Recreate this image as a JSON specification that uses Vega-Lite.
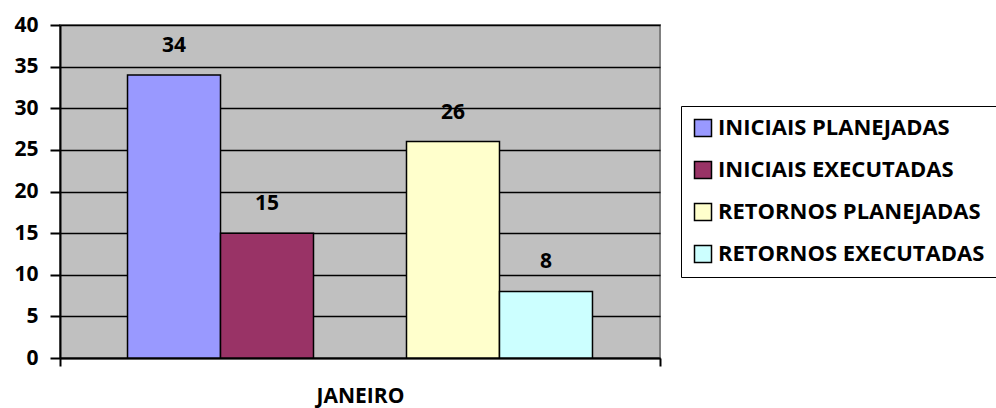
{
  "$schema": "https://vega.github.io/schema/vega-lite/v6.json",
  "width": 600,
  "height": 333,
  "autosize": {"type": "none"},
  "padding": {"left": 60, "top": 25, "right": 336, "bottom": 50},
  "background": "white",
  "config": {
    "font": "Open Sans",
    "view": {"fill": "#C0C0C0", "stroke": "#808080", "strokeWidth": 2},
    "legend": {"strokeColor": "black", "fillColor": "white"}
  },
  "data": {
    "values": [
      {"mes": "JANEIRO", "serie": "INICIAIS PLANEJADAS", "valor": 34},
      {"mes": "JANEIRO", "serie": "INICIAIS EXECUTADAS", "valor": 15},
      {"mes": "JANEIRO", "serie": "RETORNOS PLANEJADAS", "valor": 26},
      {"mes": "JANEIRO", "serie": "RETORNOS EXECUTADAS", "valor": 8}
    ]
  },
  "encoding": {
    "x": {
      "field": "mes", "type": "nominal",
      "scale": {"paddingInner": 0, "paddingOuter": 0},
      "axis": {
        "title": null, "labelAngle": 0, "labelFontSize": 21, "labelFontWeight": "bold",
        "labelColor": "black", "labelPadding": 19, "ticks": true, "tickBand": "extent",
        "tickSize": 8, "tickColor": "black", "tickWidth": 2,
        "domainColor": "black", "domainWidth": 2
      }
    },
    "xOffset": {
      "field": "serie",
      "scale": {
        "domain": ["INICIAIS PLANEJADAS", "INICIAIS EXECUTADAS", " ", "RETORNOS PLANEJADAS", "RETORNOS EXECUTADAS"],
        "paddingInner": 0, "paddingOuter": 0.726
      }
    },
    "y": {
      "field": "valor", "type": "quantitative",
      "scale": {"domain": [0, 40]},
      "axis": {
        "title": null, "values": [0, 5, 10, 15, 20, 25, 30, 35, 40],
        "labelFontSize": 21, "labelFontWeight": "bold", "labelColor": "black",
        "tickSize": 10, "tickColor": "black", "tickWidth": 2, "labelPadding": 12,
        "domainColor": "black", "domainWidth": 2,
        "grid": true, "gridColor": "black", "gridWidth": 1.5
      }
    }
  },
  "layer": [
    {
      "mark": {"type": "bar", "stroke": "black", "strokeWidth": 1.5},
      "encoding": {
        "color": {
          "field": "serie", "type": "nominal",
          "scale": {
            "domain": ["INICIAIS PLANEJADAS", "INICIAIS EXECUTADAS", "RETORNOS PLANEJADAS", "RETORNOS EXECUTADAS"],
            "range": ["#9999FF", "#993366", "#FFFFCC", "#CCFFFF"]
          },
          "legend": {
            "title": null, "orient": "none", "legendX": 621, "legendY": 81,
            "padding": 11, "symbolType": "square", "symbolSize": 289,
            "symbolStrokeColor": "black", "symbolStrokeWidth": 1.5, "symbolOpacity": 1,
            "labelFontSize": 22, "labelFontWeight": "bold", "labelColor": "black",
            "labelLimit": 400, "rowPadding": 18, "labelOffset": 4
          }
        }
      }
    },
    {
      "mark": {"type": "text", "dy": -23, "baseline": "alphabetic", "fontSize": 21, "fontWeight": "bold", "color": "black"},
      "encoding": {"text": {"field": "valor", "type": "quantitative"}}
    }
  ]
}
